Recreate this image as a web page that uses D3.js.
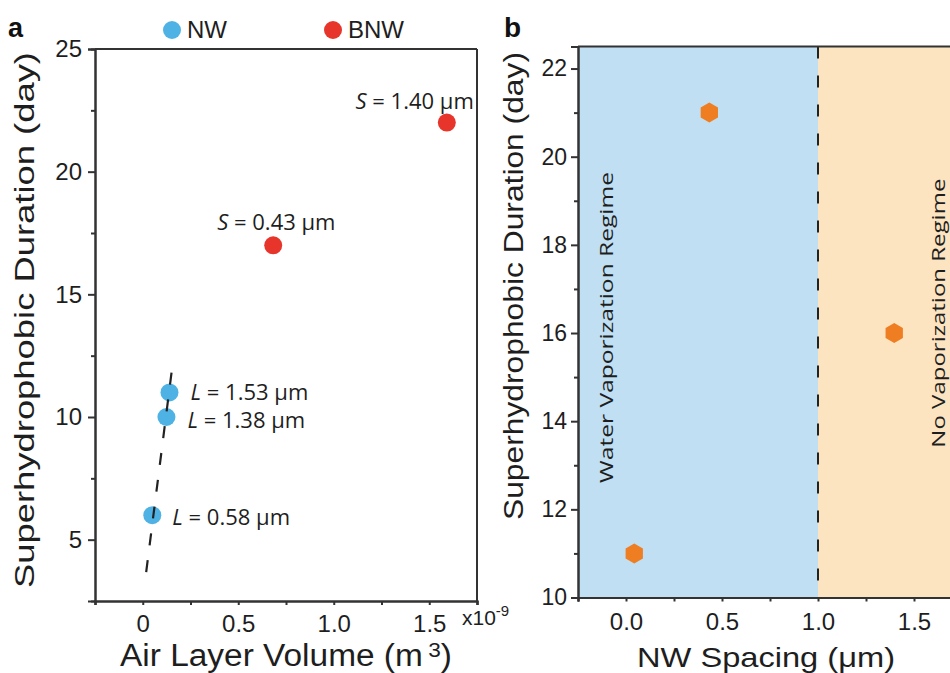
<!DOCTYPE html>
<html>
<head>
<meta charset="utf-8">
<script src="https://cdn.jsdelivr.net/npm/d3@7"></script>
<style>
  body { margin: 0; background: #fff; }
  svg { display: block; }
  .axis path, .axis line { stroke: #333; stroke-width: 2; }
  .axis text { font-family: "Liberation Sans", Arial, sans-serif; fill: #1e1e1e; }
</style>
</head>
<body>
<div id="chart"></div>
<script>
// panel a data
var nwVolume = [0.05, 0.124, 0.14];
var nwDays = [6, 10, 11];
var nwLabels = ["0.58", "1.38", "1.53"];
var bnwVolume = [0.683, 1.592];
var bnwDays = [17, 22];
var bnwLabels = ["0.43", "1.40"];
var fitX = [0.018, 0.159];
var fitY = [3.68, 12.32];
var aXTicks = [0, 0.5, 1.0, 1.5];
var aXTickLabels = ["0", "0.5", "1.0", "1.5"];
var aYTicks = [5, 10, 15, 20, 25];

// panel b data
var spacing = [0.043, 0.434, 1.397];
var spacingDays = [11, 21, 16];
var bXTicks = [0, 0.5, 1.0, 1.5];
var bXTickLabels = ["0.0", "0.5", "1.0", "1.5"];
var bYTicks = [10, 12, 14, 16, 18, 20, 22];
var regimeSplit = 1.0;

var w = 950, h = 673;
var svg = d3.select("#chart").append("svg").attr("width", w).attr("height", h);

var ink = "#1e1e1e";
var blue = "#4fb2e5", red = "#e8352b", orange = "#ef7d22";

// ---------- panel a ----------
var xA = d3.scaleLinear().domain([-0.25, 1.75]).range([95, 477]);
var yA = d3.scaleLinear().domain([2.5, 25]).range([601, 49]);

var gA = svg.append("g");

// minor ticks
gA.append("g").attr("class", "axis").attr("transform", "translate(0,601)")
  .call(d3.axisBottom(xA).tickValues([-0.25, 0.25, 0.75, 1.25, 1.75]).tickSize(4).tickFormat(""));
gA.append("g").attr("class", "axis").attr("transform", "translate(95,0)")
  .call(d3.axisLeft(yA).tickValues([7.5, 12.5, 17.5, 22.5]).tickSize(4).tickFormat(""));

gA.append("g").attr("class", "axis").attr("transform", "translate(0,601)")
  .call(d3.axisBottom(xA).tickValues(aXTicks).tickSize(4).tickPadding(10)
    .tickFormat(function(d, i) { return aXTickLabels[i]; }))
  .selectAll("text").style("font-size", "24px");
gA.append("g").attr("class", "axis").attr("transform", "translate(95,0)")
  .call(d3.axisLeft(yA).tickValues(aYTicks).tickSize(7).tickPadding(6))
  .selectAll("text").style("font-size", "24px");

// frame top / right
gA.append("line").attr("x1", xA(-0.25)).attr("x2", xA(1.75)).attr("y1", yA(25)).attr("y2", yA(25))
  .attr("stroke", "#333").attr("stroke-width", 2);
gA.append("line").attr("x1", xA(1.75)).attr("x2", xA(1.75)).attr("y1", yA(25)).attr("y2", yA(2.5))
  .attr("stroke", "#333").attr("stroke-width", 2);

// points
gA.selectAll(".nw").data(nwVolume).enter().append("circle")
  .attr("class", "nw")
  .attr("cx", function(d) { return xA(d); })
  .attr("cy", function(d, i) { return yA(nwDays[i]); })
  .attr("r", 9).attr("fill", blue);

// dashed guide line, drawn over the NW dots like the original
gA.append("line")
  .attr("x1", xA(fitX[0])).attr("y1", yA(fitY[0]))
  .attr("x2", xA(fitX[1])).attr("y2", yA(fitY[1]))
  .attr("stroke", "#222").attr("stroke-width", 2.2).attr("stroke-dasharray", "12,15");

gA.selectAll(".bnw").data(bnwVolume).enter().append("circle")
  .attr("class", "bnw")
  .attr("cx", function(d) { return xA(d); })
  .attr("cy", function(d, i) { return yA(bnwDays[i]); })
  .attr("r", 9).attr("fill", red);

// annotations
var noteFont = "'Open Sans', 'Noto Sans', sans-serif";
var nwOff = [[20, 9.5], [21, 11], [21, 8]];
nwVolume.forEach(function(v, i) {
  var t = gA.append("text")
    .attr("x", xA(v) + nwOff[i][0]).attr("y", yA(nwDays[i]) + nwOff[i][1])
    .attr("font-family", noteFont).attr("font-size", 22).attr("fill", ink);
  t.append("tspan").attr("font-style", "italic").text("L");
  t.append("tspan").text(" = " + nwLabels[i] + " \u03bcm");
});
var bnwOff = [[-56, -15, "start"], [27, -14, "end"]];
bnwVolume.forEach(function(v, i) {
  var t = gA.append("text")
    .attr("x", xA(v) + bnwOff[i][0]).attr("y", yA(bnwDays[i]) + bnwOff[i][1])
    .attr("text-anchor", bnwOff[i][2])
    .attr("font-family", noteFont).attr("font-size", 22).attr("fill", ink);
  t.append("tspan").attr("font-style", "italic").text("S");
  t.append("tspan").text(" = " + bnwLabels[i] + " \u03bcm");
});

// axis titles
var axisFont = "'Liberation Sans', Arial, sans-serif";
svg.append("text")
  .attr("transform", "translate(34," + 320 + ") rotate(-90)")
  .attr("text-anchor", "middle").attr("font-family", axisFont).attr("font-size", 27)
  .attr("textLength", 536).attr("lengthAdjust", "spacingAndGlyphs")
  .attr("fill", ink).text("Superhydrophobic Duration (day)");

var xt = svg.append("text").attr("x", 120).attr("y", 666)
  .attr("font-family", axisFont).attr("font-size", 31).attr("fill", ink)
  .attr("textLength", 332).attr("lengthAdjust", "spacingAndGlyphs");
xt.append("tspan").text("Air Layer Volume (m");
xt.append("tspan").attr("dx", 5).attr("dy", -9).attr("font-size", 21).text("3");
xt.append("tspan").attr("dy", 9).text(")");

var ex = svg.append("text").attr("x", 462).attr("y", 625)
  .attr("font-family", axisFont).attr("font-size", 21).attr("fill", ink);
ex.append("tspan").text("x10");
ex.append("tspan").attr("dy", -9).attr("font-size", 15).text("-9");

// legend
var legend = [{name: "NW", color: blue, x: 172}, {name: "BNW", color: red, x: 333}];
legend.forEach(function(l) {
  svg.append("circle").attr("cx", l.x).attr("cy", 30).attr("r", 9).attr("fill", l.color);
  svg.append("text").attr("x", l.x + 15).attr("y", 38)
    .attr("font-family", axisFont).attr("font-size", 24).attr("fill", ink).text(l.name);
});

svg.append("text").attr("x", 8).attr("y", 37).attr("font-family", axisFont)
  .attr("font-weight", "bold").attr("font-size", 27).attr("fill", "#111").text("a");

// ---------- panel b ----------
var xB = d3.scaleLinear().domain([-0.25, 1.75]).range([578, 962]);
var yB = d3.scaleLinear().domain([10, 22.5]).range([597.5, 46.5]);
var gB = svg.append("g");

gB.append("rect").attr("x", xB(-0.25)).attr("y", yB(22.5))
  .attr("width", xB(regimeSplit) - xB(-0.25)).attr("height", yB(10) - yB(22.5))
  .attr("fill", "#c0dff2");
gB.append("rect").attr("x", xB(regimeSplit)).attr("y", yB(22.5))
  .attr("width", xB(1.75) - xB(regimeSplit)).attr("height", yB(10) - yB(22.5))
  .attr("fill", "#fde4c1");

gB.append("line").attr("x1", xB(regimeSplit)).attr("x2", xB(regimeSplit))
  .attr("y1", yB(22.5)).attr("y2", yB(10))
  .attr("stroke", "#222").attr("stroke-width", 2).attr("stroke-dasharray", "12,17");

gB.append("g").attr("class", "axis").attr("transform", "translate(0,597.5)")
  .call(d3.axisBottom(xB).tickValues([-0.25, 0.25, 0.75, 1.25, 1.75]).tickSize(4).tickFormat(""));
gB.append("g").attr("class", "axis").attr("transform", "translate(578,0)")
  .call(d3.axisLeft(yB).tickValues([11, 13, 15, 17, 19, 21]).tickSize(4).tickFormat(""));
gB.append("g").attr("class", "axis").attr("transform", "translate(0,597.5)")
  .call(d3.axisBottom(xB).tickValues(bXTicks).tickSize(4).tickPadding(11)
    .tickFormat(function(d, i) { return bXTickLabels[i]; }))
  .selectAll("text").style("font-size", "24px");
gB.append("g").attr("class", "axis").attr("transform", "translate(578,0)")
  .call(d3.axisLeft(yB).tickValues(bYTicks).tickSize(7).tickPadding(4))
  .selectAll("text").style("font-size", "23px");

gB.append("line").attr("x1", xB(-0.25)).attr("x2", xB(1.75)).attr("y1", yB(22.5)).attr("y2", yB(22.5))
  .attr("stroke", "#333").attr("stroke-width", 2);

// hexagon markers
function hexagon(r) {
  var pts = d3.range(6).map(function(k) {
    var a = Math.PI / 3 * k - Math.PI / 2;
    return [r * Math.cos(a), r * Math.sin(a)];
  });
  return "M" + pts.join("L") + "Z";
}
gB.selectAll(".hex").data(spacing).enter().append("path")
  .attr("class", "hex")
  .attr("d", hexagon(10))
  .attr("transform", function(d, i) { return "translate(" + xB(d) + "," + yB(spacingDays[i]) + ")"; })
  .attr("fill", orange);

// regime labels
gB.append("text")
  .attr("transform", "translate(" + xB(-0.068) + "," + yB(12.6) + ") rotate(-90)")
  .attr("font-family", noteFont).attr("font-size", 18).attr("fill", ink)
  .attr("textLength", 311).attr("lengthAdjust", "spacingAndGlyphs")
  .text("Water Vaporization Regime");
gB.append("text")
  .attr("transform", "translate(" + xB(1.66) + "," + yB(13.4) + ") rotate(-90)")
  .attr("font-family", noteFont).attr("font-size", 18).attr("fill", ink)
  .attr("textLength", 269).attr("lengthAdjust", "spacingAndGlyphs")
  .text("No Vaporization Regime");

svg.append("text")
  .attr("transform", "translate(523," + 286 + ") rotate(-90)")
  .attr("text-anchor", "middle").attr("font-family", axisFont).attr("font-size", 27)
  .attr("textLength", 468).attr("lengthAdjust", "spacingAndGlyphs")
  .attr("fill", ink).text("Superhydrophobic Duration (day)");

svg.append("text").attr("x", 637).attr("y", 667)
  .attr("font-family", axisFont).attr("font-size", 28)
  .attr("textLength", 258).attr("lengthAdjust", "spacingAndGlyphs")
  .attr("fill", ink).text("NW Spacing (\u03bcm)");

svg.append("text").attr("x", 504).attr("y", 37).attr("font-family", axisFont)
  .attr("font-weight", "bold").attr("font-size", 28).attr("fill", "#111").text("b");
</script>
</body>
</html>
